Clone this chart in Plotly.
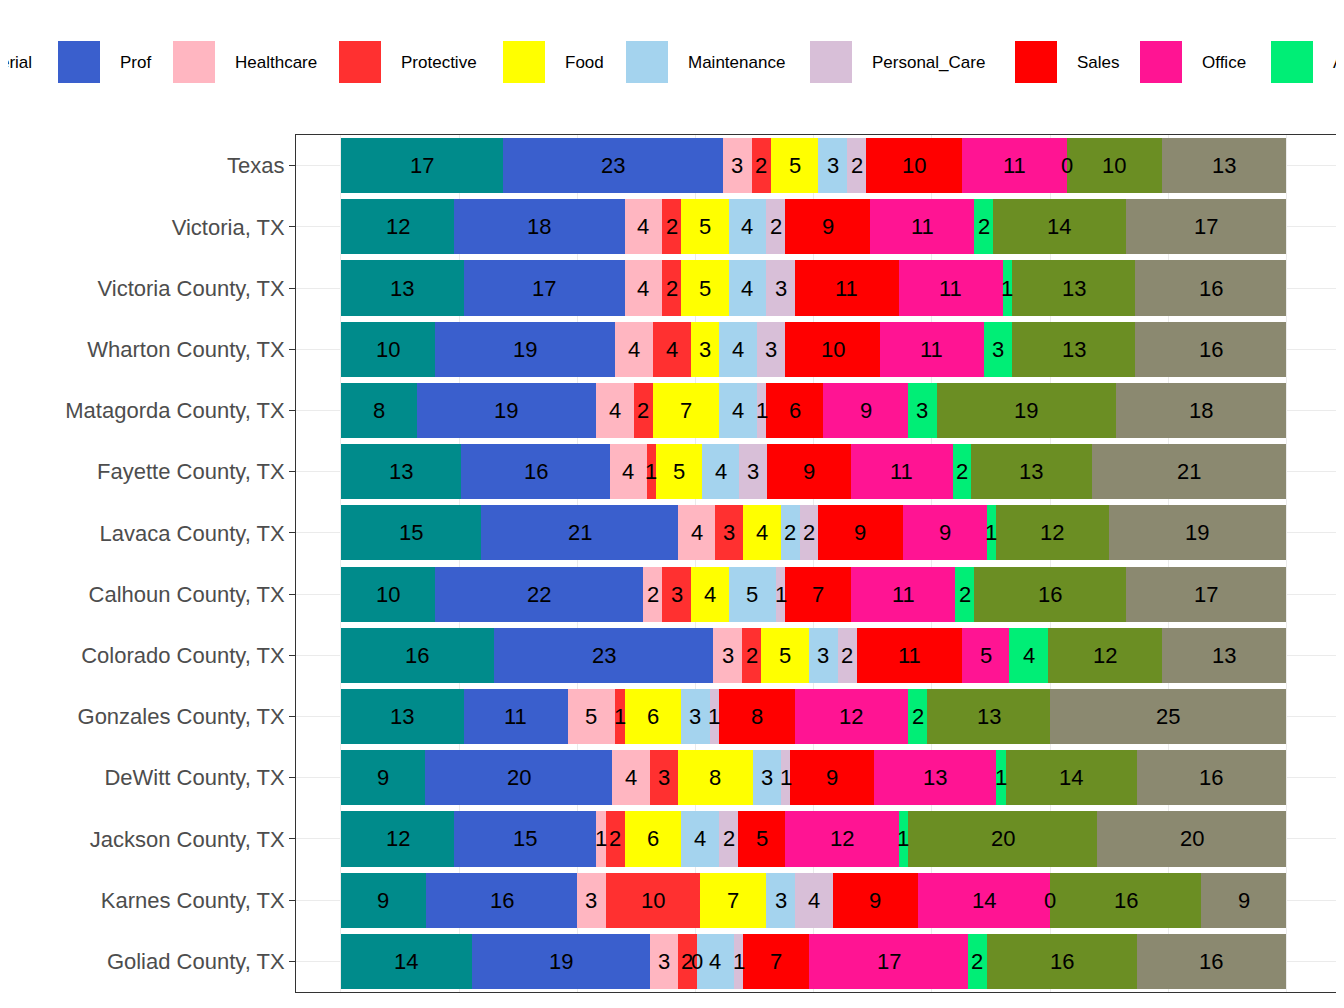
import plotly.graph_objects as go

regions = ["Texas", "Victoria, TX", "Victoria County, TX", "Wharton County, TX",
           "Matagorda County, TX", "Fayette County, TX", "Lavaca County, TX",
           "Calhoun County, TX", "Colorado County, TX", "Gonzales County, TX",
           "DeWitt County, TX", "Jackson County, TX", "Karnes County, TX", "Goliad County, TX"]
groups = ["Managerial", "Prof", "Healthcare", "Protective", "Food", "Maintenance",
          "Personal_Care", "Sales", "Office", "Ag", "Construction", "Production"]
colors = ["#008B8B", "#3A5FCD", "#FFB6C1", "#FF3030", "#FFFF00", "#A4D3EE",
          "#D8BFD8", "#FF0000", "#FF1493", "#00EE76", "#6B8E23", "#8B8970"]
values = [
    [17, 23, 3, 2, 5, 3, 2, 10, 11, 0, 10, 13],
    [12, 18, 4, 2, 5, 4, 2, 9, 11, 2, 14, 17],
    [13, 17, 4, 2, 5, 4, 3, 11, 11, 1, 13, 16],
    [10, 19, 4, 4, 3, 4, 3, 10, 11, 3, 13, 16],
    [8, 19, 4, 2, 7, 4, 1, 6, 9, 3, 19, 18],
    [13, 16, 4, 1, 5, 4, 3, 9, 11, 2, 13, 21],
    [15, 21, 4, 3, 4, 2, 2, 9, 9, 1, 12, 19],
    [10, 22, 2, 3, 4, 5, 1, 7, 11, 2, 16, 17],
    [16, 23, 3, 2, 5, 3, 2, 11, 5, 4, 12, 13],
    [13, 11, 5, 1, 6, 3, 1, 8, 12, 2, 13, 25],
    [9, 20, 4, 3, 8, 3, 1, 9, 13, 1, 14, 16],
    [12, 15, 1, 2, 6, 4, 2, 5, 12, 1, 20, 20],
    [9, 16, 3, 10, 7, 3, 4, 9, 14, 0, 16, 9],
    [14, 19, 3, 2, 0, 4, 1, 7, 17, 2, 16, 16],
]

# normalise each row to 100
pct = [[v / sum(r) * 100 for v in r] for r in values]

fig = go.Figure()
for j, g in enumerate(groups):
    fig.add_trace(go.Bar(y=regions, x=[p[j] for p in pct], name=g, orientation="h",
                         marker=dict(color=colors[j], line=dict(width=0)), width=0.9,
                         showlegend=False))

annots = []
for i, r in enumerate(regions):
    cum = 0
    for j, p in enumerate(pct[i]):
        annots.append(dict(x=cum + p / 2, y=r, text=str(values[i][j]), showarrow=False,
                           font=dict(size=22, color="black"), xref="x", yref="y"))
        cum += p

# hand-drawn legend strip across the top (ggplot style, overflowing the page)
L, T, W, H = 288, 127, 1040, 857
swatch_px = [-122, 50, 165, 331, 495, 618, 802, 1007, 1132, 1263, 1420, 1620]
shapes = []
for g, c, sx in zip(groups, colors, swatch_px):
    x0 = (sx - L) / W
    x1 = (sx + 42 - L) / W
    y0 = 1 + (T - 75) / H
    y1 = 1 + (T - 33) / H
    shapes.append(dict(type="rect", xref="paper", yref="paper", x0=x0, x1=x1, y0=y0, y1=y1,
                       fillcolor=c, line=dict(width=0)))
    annots.append(dict(xref="paper", yref="paper", x=(sx + 60 - L) / W, y=1 + (T - 54) / H,
                       text=g, showarrow=False, xanchor="left", yanchor="middle",
                       font=dict(size=17, color="black")))

fig.update_layout(
    barmode="stack", width=1344, height=1008, plot_bgcolor="white", paper_bgcolor="white",
    font=dict(family="Liberation Sans, Arial", color="#4D4D4D"),
    margin=dict(l=L, r=1344 - L - W, t=T, b=1008 - T - H, autoexpand=False),
    annotations=annots, shapes=shapes, showlegend=False,
    bargap=0.1,
)
fig.update_xaxes(range=[-4.75, 105.25], showticklabels=False, showgrid=True,
                 gridcolor="#EBEBEB", dtick=12.5, tick0=0, zeroline=False,
                 showline=True, linecolor="#333333", mirror=True, ticks="")
fig.update_yaxes(autorange="reversed", showgrid=True, gridcolor="#EBEBEB",
                 showline=True, linecolor="#333333", mirror=True, automargin=False,
                 ticks="outside", ticklen=6, tickcolor="#333333",
                 tickfont=dict(size=22, color="#4D4D4D"))
fig.write_html("out.html")
